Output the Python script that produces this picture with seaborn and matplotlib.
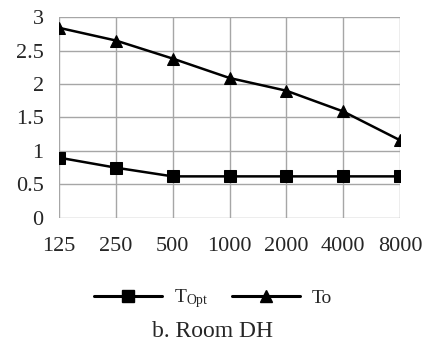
import matplotlib
matplotlib.use("Agg")
import matplotlib.pyplot as plt
import seaborn as sns
import pandas as pd

freqs = ["125", "250", "500", "1000", "2000", "4000", "8000"]
t_opt = [0.90, 0.75, 0.62, 0.62, 0.62, 0.62, 0.62]
t_o = [2.84, 2.65, 2.38, 2.09, 1.90, 1.59, 1.16]
series_names = ["$\\mathregular{T_{Opt}}$", "To"]

df = pd.DataFrame({
    "freq": freqs * 2,
    "value": t_opt + t_o,
    "series": [series_names[0]] * len(freqs) + [series_names[1]] * len(freqs),
})

sns.set_style("white")
plt.rcParams["font.family"] = ["Liberation Serif", "DejaVu Serif"]
plt.rcParams["mathtext.fontset"] = "custom"
plt.rcParams["mathtext.rm"] = "Liberation Serif"

fig = plt.figure(figsize=(4.26, 3.56), dpi=100)
ax = fig.add_axes([0.1385, 0.388, 0.8005, 0.564])

sns.lineplot(data=df, x="freq", y="value", hue="series", style="series",
             markers=["s", "^"], dashes=False, palette=["black", "black"],
             markersize=9, linewidth=1.8, markeredgecolor="black",
             sort=False, ax=ax, legend=False)

ax.set_xlim(0, len(freqs) - 1)
ax.set_ylim(0, 3)
ax.set_yticks([0, 0.5, 1, 1.5, 2, 2.5, 3])
ax.set_yticklabels(["0", "0.5", "1", "1.5", "2", "2.5", "3"])
ax.grid(True, color="#a6a6a6", linewidth=1.0)
for s in ax.spines.values():
    s.set_visible(False)
ax.tick_params(axis="both", length=5, color="#a6a6a6", labelsize=16)
ax.tick_params(axis="x", pad=9)
ax.tick_params(axis="y", pad=6)
ax.set_xlabel("")
ax.set_ylabel("")

h1, = ax.plot([], [], color="black", marker="s", markersize=9, linewidth=2.2)
h2, = ax.plot([], [], color="black", marker="^", markersize=9, linewidth=2.2)
fig.legend([h1, h2], series_names, loc="center", bbox_to_anchor=(0.5, 0.16),
           ncol=2, frameon=False, fontsize=14, handlelength=3.5,
           columnspacing=1.2, handletextpad=0.6)

fig.text(0.5, 0.07, "b. Room DH", ha="center", va="center", fontsize=17)

fig.savefig("out.png", dpi=100)
